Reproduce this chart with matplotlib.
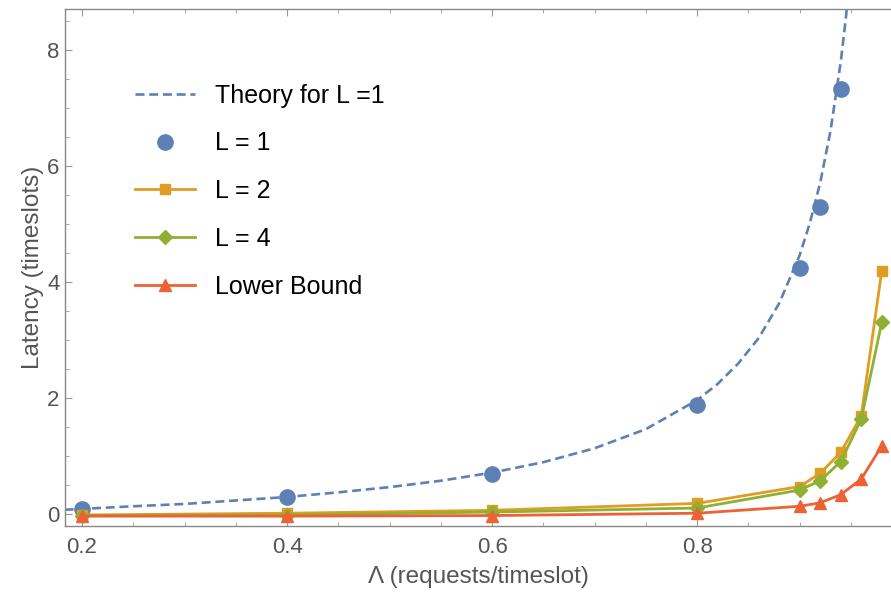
import matplotlib
matplotlib.use("Agg")
import matplotlib.pyplot as plt
from matplotlib.ticker import MultipleLocator, FormatStrFormatter

# arrival rate (requests/timeslot) where the simulations were run
load = [0.2, 0.4, 0.6, 0.8, 0.9, 0.92, 0.94, 0.96, 0.98]

lat_l1 = [0.08, 0.29, 0.69, 1.87, 4.23, 5.29, 7.32]
lat_l2 = [-0.02, 0.01, 0.06, 0.18, 0.47, 0.70, 1.06, 1.69, 4.19]
lat_l4 = [-0.03, -0.02, 0.03, 0.10, 0.41, 0.57, 0.90, 1.63, 3.30]
lat_lb = [-0.04, -0.04, -0.03, 0.01, 0.13, 0.19, 0.33, 0.60, 1.17]

# theory curve for L = 1, sampled along the load axis
theory_x = [0.183, 0.2, 0.25, 0.3, 0.35, 0.4, 0.45, 0.5, 0.55, 0.6, 0.65, 0.7,
            0.75, 0.8, 0.82, 0.84, 0.86, 0.88, 0.9, 0.91, 0.92, 0.93, 0.94,
            0.945, 0.95]
theory_y = [0.07, 0.085, 0.13, 0.17, 0.23, 0.29, 0.37, 0.46, 0.57, 0.71, 0.89,
            1.13, 1.46, 1.96, 2.24, 2.59, 3.03, 3.63, 4.46, 5.02, 5.71, 6.60,
            7.79, 8.55, 9.46]

blue = "#5E81B5"
orange = "#E19C24"
green = "#8FB032"
red = "#EB6235"
grey = "#555555"

plt.rcParams["font.family"] = ["Liberation Sans", "DejaVu Sans"]

fig = plt.figure(figsize=(8.91, 5.92), dpi=100)
ax = fig.add_axes([0.073, 0.1115, 0.927, 0.8733])

ax.plot(theory_x, theory_y, color=blue, lw=1.9, dashes=(3.4, 1.8),
        label="Theory for L =1")
ax.plot(load[:len(lat_l1)], lat_l1, "o", color=blue, ms=11, label="L = 1")
ax.plot(load, lat_l2, "-s", color=orange, lw=2, ms=7, label="L = 2")
ax.plot(load, lat_l4, "-D", color=green, lw=2, ms=7, label="L = 4")
ax.plot(load, lat_lb, "-^", color=red, lw=2, ms=9, label="Lower Bound")

ax.set_xlim(0.1834, 0.989)
ax.set_ylim(-0.21, 8.70)

ax.xaxis.set_major_locator(MultipleLocator(0.2))
ax.xaxis.set_minor_locator(MultipleLocator(0.05))
ax.yaxis.set_major_locator(MultipleLocator(2))
ax.yaxis.set_minor_locator(MultipleLocator(0.5))
ax.xaxis.set_major_formatter(FormatStrFormatter("%.1f"))
ax.yaxis.set_major_formatter(FormatStrFormatter("%d"))

ax.tick_params(which="both", direction="in", top=True, right=False,
               color="#999999", labelcolor=grey, labelsize=16)
ax.tick_params(which="major", length=5, width=0.8)
ax.tick_params(which="minor", length=3, width=0.6)
ax.tick_params(axis="x", pad=8)
ax.tick_params(axis="y", pad=4)

for side in ["left", "bottom", "top"]:
    ax.spines[side].set_color("#888888")
    ax.spines[side].set_linewidth(1.0)
ax.spines["right"].set_visible(False)

ax.set_xlabel("\u039b (requests/timeslot)", color=grey, fontsize=17.5, labelpad=6)
ax.set_ylabel("Latency (timeslots)", color=grey, fontsize=17.5, labelpad=2)

leg = ax.legend(loc="upper left", bbox_to_anchor=(0.0575, 0.899), frameon=False,
                fontsize=18, handlelength=2.4, handletextpad=0.8,
                labelspacing=0.95, numpoints=1)

fig.savefig("out.png", dpi=100)
plt.close(fig)
